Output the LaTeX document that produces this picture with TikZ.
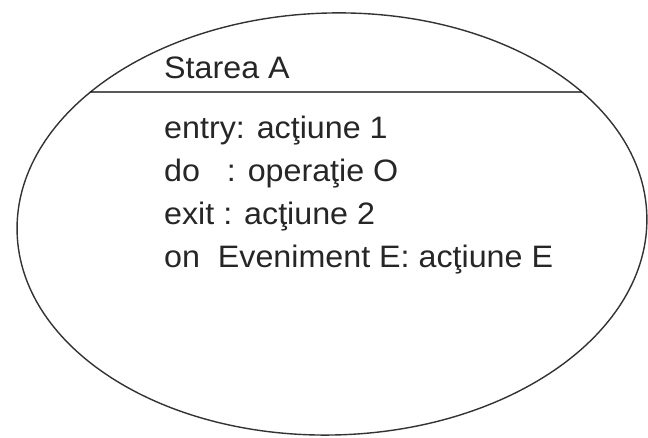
\documentclass[tikz,border=0pt]{standalone}
\usepackage{fontspec}
\setmainfont[FakeStretch=1.04]{Liberation Sans}
\usetikzlibrary{intersections}
\begin{document}
\begin{tikzpicture}[x=1pt,y=-1pt,
  outline/.style={draw=black!80,line width=1.4pt},
  chord/.style={draw=black,line width=1.4pt},
  txt/.style={anchor=base west,inner sep=0pt,font=\fontsize{31}{36}\selectfont,text=black!85}]
\useasboundingbox[fill=white] (0,0) rectangle (648,438);
\coordinate (c) at (332,224);
\path[outline,name path=ell,rotate around={1.5:(c)}] (c) ellipse [x radius=315, y radius=211];
\path[name path=hl] (0,92) -- (648,92);
\path[name intersections={of=ell and hl,name=i}];
\draw[chord] (i-1) -- (i-2);
\node[txt] (title) at (164,79) {Starea A};
\node[txt] (l1) at (164,139) {entry: ac\char"0163iune 1};
\node[txt] (l2) at (164,182) {do\ \ \ : opera\char"0163ie O};
\node[txt] (l3) at (164,225) {exit : ac\char"0163iune 2};
\node[txt] (l4) at (164,268) {on\ \ Eveniment E: ac\char"0163iune E};
\end{tikzpicture}
\end{document}
